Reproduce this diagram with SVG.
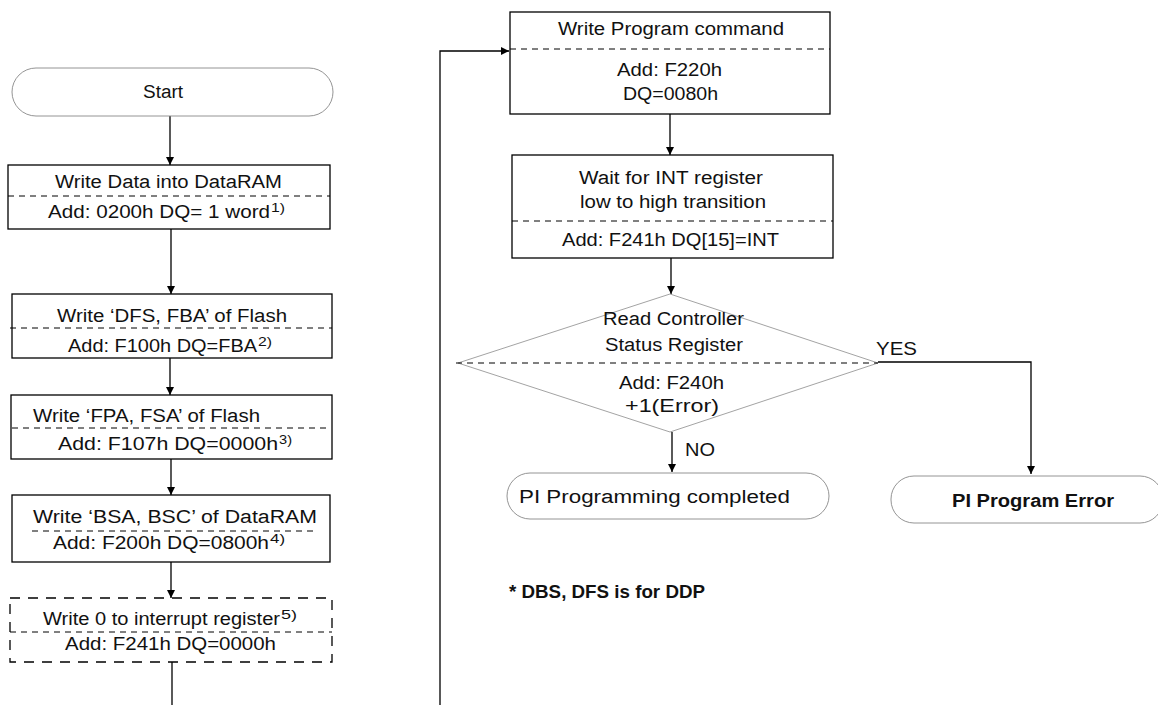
<svg xmlns="http://www.w3.org/2000/svg" width="1158" height="705" viewBox="0 0 1158 705">
<defs>
<style>
.t{font-family:"Liberation Sans",Arial,sans-serif;font-size:18px;fill:#111}
.b{font-weight:bold}
.s{font-family:"Liberation Sans",Arial,sans-serif;font-size:12px;fill:#111}
.box{fill:#fff;stroke:#000;stroke-width:1.3}
.dbox{fill:#fff;stroke:#000;stroke-width:1.3;stroke-dasharray:10 8}
.term{fill:#fff;stroke:#888;stroke-width:0.9}
.div{fill:none;stroke:#000;stroke-width:1;stroke-dasharray:6 5}
.c{fill:none;stroke:#000;stroke-width:1.3}
</style>
<marker id="ah" viewBox="0 0 10 10" refX="10" refY="5" markerWidth="8" markerHeight="8" markerUnits="userSpaceOnUse" orient="auto">
<path d="M0,0 L10,5 L0,10 z" fill="#000"/>
</marker>
</defs>
<rect width="1158" height="705" fill="#fff"/>

<g id="connectors">
<line class="c" x1="170" y1="116" x2="170" y2="165" marker-end="url(#ah)"/>
<line class="c" x1="171" y1="229" x2="171" y2="294" marker-end="url(#ah)"/>
<line class="c" x1="170" y1="358" x2="170" y2="395" marker-end="url(#ah)"/>
<line class="c" x1="171" y1="459" x2="171" y2="495" marker-end="url(#ah)"/>
<line class="c" x1="171" y1="562" x2="171" y2="598" marker-end="url(#ah)"/>
<line class="c" x1="172" y1="662" x2="172" y2="705"/>
<polyline class="c" points="440,705 440,51 509,51" marker-end="url(#ah)"/>
<line class="c" x1="670" y1="114" x2="670" y2="155" marker-end="url(#ah)"/>
<line class="c" x1="671" y1="258" x2="671" y2="294" marker-end="url(#ah)"/>
<line class="c" x1="672" y1="432" x2="672" y2="472" marker-end="url(#ah)"/>
<polyline class="c" points="878,362 1031,362 1031,474" marker-end="url(#ah)"/>
<text class="t" x="685" y="456" textLength="30" lengthAdjust="spacingAndGlyphs">NO</text>
<text class="t" x="876" y="355" textLength="41" lengthAdjust="spacingAndGlyphs">YES</text>
</g>

<g id="start">
<rect class="term" x="12" y="68" width="321" height="48" rx="24" ry="24"/>
<text class="t" x="143" y="98" textLength="40" lengthAdjust="spacingAndGlyphs">Start</text>
</g>

<g id="write-data">
<rect class="box" x="8" y="165" width="322" height="64"/>
<line class="div" x1="8" y1="196" x2="330" y2="196"/>
<text class="t" x="55" y="188" textLength="227" lengthAdjust="spacingAndGlyphs">Write Data into DataRAM</text>
<text class="t" x="48" y="218" textLength="222" lengthAdjust="spacingAndGlyphs">Add: 0200h DQ= 1 word</text>
<text class="s" x="271" y="212" textLength="14" lengthAdjust="spacingAndGlyphs">1)</text>
</g>

<g id="write-dfs">
<rect class="box" x="12" y="294" width="320" height="64"/>
<line class="div" x1="10" y1="328" x2="332" y2="328"/>
<text class="t" x="57" y="322" textLength="230" lengthAdjust="spacingAndGlyphs">Write ‘DFS, FBA’ of Flash</text>
<text class="t" x="68" y="352" textLength="189" lengthAdjust="spacingAndGlyphs">Add: F100h DQ=FBA</text>
<text class="s" x="258" y="346" textLength="14" lengthAdjust="spacingAndGlyphs">2)</text>
</g>

<g id="write-fpa">
<rect class="box" x="11" y="395" width="321" height="64"/>
<line class="div" x1="12" y1="428" x2="330" y2="428"/>
<text class="t" x="33" y="422" textLength="227" lengthAdjust="spacingAndGlyphs">Write ‘FPA, FSA’ of Flash</text>
<text class="t" x="58" y="450" textLength="220" lengthAdjust="spacingAndGlyphs">Add: F107h DQ=0000h</text>
<text class="s" x="279" y="444" textLength="13" lengthAdjust="spacingAndGlyphs">3)</text>
</g>

<g id="write-bsa">
<rect class="box" x="12" y="495" width="318" height="67"/>
<line class="div" x1="32" y1="531" x2="315" y2="531"/>
<text class="t" x="33" y="523" textLength="284" lengthAdjust="spacingAndGlyphs">Write ‘BSA, BSC’ of DataRAM</text>
<text class="t" x="53" y="549" textLength="216" lengthAdjust="spacingAndGlyphs">Add: F200h DQ=0800h</text>
<text class="s" x="270" y="543" textLength="15" lengthAdjust="spacingAndGlyphs">4)</text>
</g>

<g id="write-int">
<rect class="dbox" x="10" y="598" width="322" height="64"/>
<line class="div" x1="10" y1="632" x2="332" y2="632"/>
<text class="t" x="43" y="625" textLength="237" lengthAdjust="spacingAndGlyphs">Write 0 to interrupt register</text>
<text class="s" x="281" y="619" textLength="16" lengthAdjust="spacingAndGlyphs">5)</text>
<text class="t" x="65" y="650" textLength="211" lengthAdjust="spacingAndGlyphs">Add: F241h DQ=0000h</text>
</g>

<g id="write-program">
<rect class="box" x="510" y="12" width="320" height="102"/>
<line class="div" x1="510" y1="49" x2="830" y2="49"/>
<text class="t" x="558" y="35" textLength="226" lengthAdjust="spacingAndGlyphs">Write Program command</text>
<text class="t" x="617" y="76" textLength="105" lengthAdjust="spacingAndGlyphs">Add: F220h</text>
<text class="t" x="623" y="100" textLength="95" lengthAdjust="spacingAndGlyphs">DQ=0080h</text>
</g>

<g id="wait-int">
<rect class="box" x="512" y="155" width="321" height="103"/>
<line class="div" x1="512" y1="221" x2="833" y2="221"/>
<text class="t" x="579" y="184" textLength="184" lengthAdjust="spacingAndGlyphs">Wait for INT register</text>
<text class="t" x="580" y="208" textLength="186" lengthAdjust="spacingAndGlyphs">low to high transition</text>
<text class="t" x="562" y="246" textLength="217" lengthAdjust="spacingAndGlyphs">Add: F241h DQ[15]=INT</text>
</g>

<g id="read-status">
<polygon points="670,294 878,363 670,432 458,363" fill="#fff" stroke="#999" stroke-width="0.9"/>
<line class="div" x1="456" y1="363" x2="878" y2="363"/>
<text class="t" x="603" y="325" textLength="141" lengthAdjust="spacingAndGlyphs">Read Controller</text>
<text class="t" x="605" y="351" textLength="138" lengthAdjust="spacingAndGlyphs">Status Register</text>
<text class="t" x="619" y="389" textLength="105" lengthAdjust="spacingAndGlyphs">Add: F240h</text>
<text class="t" x="625" y="412" textLength="94" lengthAdjust="spacingAndGlyphs">+1(Error)</text>
</g>

<g id="completed">
<rect class="term" x="507" y="473" width="322" height="46" rx="23" ry="23"/>
<text class="t" x="519" y="503" textLength="271" lengthAdjust="spacingAndGlyphs">PI Programming completed</text>
</g>

<g id="error">
<rect class="term" x="891" y="476" width="272" height="47" rx="23" ry="23"/>
<text class="t b" x="952" y="507" textLength="162" lengthAdjust="spacingAndGlyphs">PI Program Error</text>
</g>

<g id="note">
<text class="t b" x="509" y="598" textLength="196" lengthAdjust="spacingAndGlyphs">* DBS, DFS is for DDP</text>
</g>
</svg>
